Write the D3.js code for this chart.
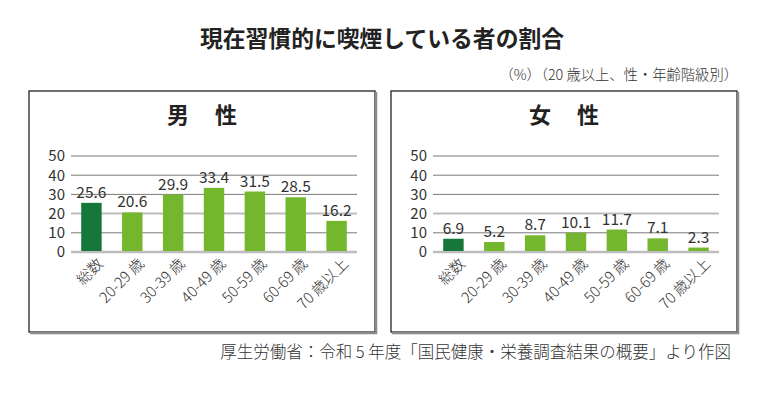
<!DOCTYPE html>
<html>
<head>
<meta charset="utf-8">
<script src="https://cdn.jsdelivr.net/npm/d3@7"></script>
<style>
  body { margin: 0; background: #fff; }
  text { font-family: "Noto Sans CJK JP", "Noto Sans", sans-serif; }
</style>
</head>
<body>
<div id="chart"></div>
<script>
// data
var categories = ["総数", "20-29 歳", "30-39 歳", "40-49 歳", "50-59 歳", "60-69 歳", "70 歳以上"];
var maleValues = [25.6, 20.6, 29.9, 33.4, 31.5, 28.5, 16.2];
var femaleValues = [6.9, 5.2, 8.7, 10.1, 11.7, 7.1, 2.3];
var yTicks = [0, 10, 20, 30, 40, 50];
var panelTitles = ["男　性", "女　性"];

var svgWidth = 776;
var svgHeight = 396;

var svg = d3.select("#chart")
  .append("svg")
  .attr("width", svgWidth)
  .attr("height", svgHeight);

// main title
svg.append("text")
  .attr("x", 382)
  .attr("y", 47)
  .attr("text-anchor", "middle")
  .attr("font-size", "22.8px")
  .attr("font-weight", "bold")
  .attr("fill", "#222")
  .text("現在習慣的に喫煙している者の割合");

svg.append("text")
  .attr("x", 738)
  .attr("y", 80)
  .attr("text-anchor", "end")
  .attr("font-size", "14.3px")
  .attr("font-weight", 300)
  .attr("fill", "#333")
  .text("（%）（20 歳以上、性・年齢階級別）");

svg.append("text")
  .attr("x", 731)
  .attr("y", 358)
  .attr("text-anchor", "end")
  .attr("font-size", "16.5px")
  .attr("font-weight", 300)
  .attr("fill", "#333")
  .text("厚生労働省：令和 5 年度「国民健康・栄養調査結果の概要」より作図");

var boxW = 346, boxH = 241;

function drawPanel(left, top, title, values) {
  var g = svg.append("g")
    .attr("transform", `translate(${left}, ${top})`);

  // box with shadow on right and bottom
  g.append("rect")
    .attr("x", 0).attr("y", 0)
    .attr("width", boxW).attr("height", boxH)
    .attr("fill", "#fff")
    .attr("stroke", "#222")
    .attr("stroke-width", 1.3);
  g.append("path")
    .attr("d", `M${boxW + 1},1 V${boxH + 1} H1`)
    .attr("fill", "none")
    .attr("stroke", "#8a8a8a")
    .attr("stroke-width", 2.5);

  g.append("text")
    .attr("x", boxW / 2 + 1)
    .attr("y", 32)
    .attr("text-anchor", "middle")
    .attr("font-size", "22px")
    .attr("font-weight", "bold")
    .attr("letter-spacing", "2px")
    .attr("fill", "#222")
    .text(title);

  var x = d3.scaleBand()
    .domain(categories)
    .range([42, 328])
    .paddingInner(0.5)
    .paddingOuter(0.25);

  var y = d3.scaleLinear()
    .domain([0, 50])
    .range([161, 65]);

  // gridlines
  g.selectAll(".grid")
    .data(yTicks)
    .enter()
    .append("line")
    .attr("x1", 42)
    .attr("x2", 328)
    .attr("y1", d => y(d))
    .attr("y2", d => y(d))
    .attr("stroke", d => (d === 0 || d === 20) ? "#bdbdbd" : "#7a7a7a")
    .attr("stroke-width", d => d === 0 ? 2.5 : (d === 20 ? 2 : 1));

  // y axis labels
  var leftAxis = d3.axisLeft(y).tickValues(yTicks).tickSize(0).tickPadding(0);
  var axisG = g.append("g")
    .attr("transform", "translate(36, 0)")
    .call(leftAxis);
  axisG.select(".domain").remove();
  axisG.selectAll("text")
    .attr("font-size", "15px")
    .attr("fill", "#333")
    .attr("font-family", "Lato, sans-serif");

  // bars
  g.selectAll(".bar")
    .data(values)
    .enter()
    .append("rect")
    .attr("x", (d, i) => x(categories[i]))
    .attr("y", d => y(d))
    .attr("width", x.bandwidth())
    .attr("height", d => y(0) - y(d) - 1)
    .attr("fill", (d, i) => i === 0 ? "#17763a" : "#74b72e");

  // value labels
  g.selectAll(".val")
    .data(values)
    .enter()
    .append("text")
    .attr("x", (d, i) => x(categories[i]) + x.bandwidth() / 2)
    .attr("y", d => y(d) - 5)
    .attr("text-anchor", "middle")
    .attr("font-family", "Lato, sans-serif")
    .attr("font-size", "15.5px")
    .attr("fill", "#333")
    .text(d => d.toFixed(1));

  // category labels
  g.selectAll(".cat")
    .data(categories)
    .enter()
    .append("text")
    .attr("transform", d => `translate(${x(d) + x.bandwidth() / 2 + 9}, 170) rotate(-45)`)
    .attr("text-anchor", "end")
    .attr("dy", "0.35em")
    .attr("font-size", "15px")
    .attr("font-weight", 300)
    .attr("fill", "#333")
    .text(d => d);
}

drawPanel(29, 91, panelTitles[0], maleValues);
drawPanel(391, 91, panelTitles[1], femaleValues);
</script>
</body>
</html>
